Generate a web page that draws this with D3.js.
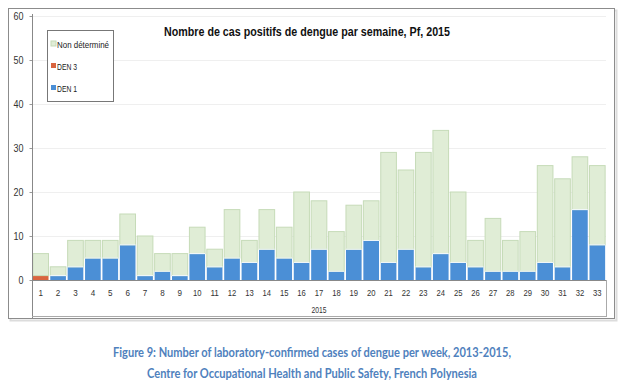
<!DOCTYPE html>
<html>
<head>
<meta charset="utf-8">
<script src="https://cdn.jsdelivr.net/npm/d3@7"></script>
<style>
  body { margin:0; background:#fff; }
  svg { display:block; }
</style>
</head>
<body>
<svg id="chart" width="618" height="387"></svg>
<script>
// weeks of 2015
var weeks = ["1","2","3","4","5","6","7","8","9","10","11","12","13","14","15","16","17",
             "18","19","20","21","22","23","24","25","26","27","28","29","30","31","32","33"];
var den1   = [0,1,3,5,5,8,1,2,1,6,3,5,4,7,5,4,7,2,7,9,4,7,3,6,4,3,2,2,2,4,3,16,8];
var den3   = [1,0,0,0,0,0,0,0,0,0,0,0,0,0,0,0,0,0,0,0,0,0,0,0,0,0,0,0,0,0,0,0,0];
var nonDet = [5,2,6,4,4,7,9,4,5,6,4,11,5,9,7,16,11,9,10,9,25,18,26,28,16,6,12,7,9,22,20,12,18];
var yTicks = [0,10,20,30,40,50,60];
var seriesKeys = ["den1","den3","nonDet"];
var seriesNames = {den1:"DEN 1", den3:"DEN 3", nonDet:"Non déterminé"};
var colors = {den1:"#4b8fd6", den3:"#d9643f", nonDet:"#e0edd6"};
var narrow = "Liberation Sans, Arial, sans-serif";

var svg = d3.select("#chart");

var table = weeks.map(function(w, i){
  return {week:w, den1:den1[i], den3:den3[i], nonDet:nonDet[i]};
});

var x = d3.scaleBand().domain(weeks).range([32, 606]).paddingInner(0.1).paddingOuter(0.05);
var y = d3.scaleLinear().domain([0, 60]).range([280, 16]);

// outer frame
svg.append("rect").attr("x", 10.5).attr("y", 10.5).attr("width", 606).attr("height", 310)
   .attr("fill", "none").attr("stroke", "#dcdcdc").attr("stroke-width", 2);
svg.append("rect").attr("x", 8.5).attr("y", 8.5).attr("width", 606).attr("height", 310)
   .attr("fill", "#fff").attr("stroke", "#8c8c8c");

// grid
svg.append("g").selectAll("line").data(yTicks.slice(1)).enter().append("line")
   .attr("x1", 32).attr("x2", 606)
   .attr("y1", function(d){ return y(d) + 0.5; }).attr("y2", function(d){ return y(d) + 0.5; })
   .attr("stroke", "#efefef");

// stacked bars
var stack = d3.stack().keys(seriesKeys)(table);
var layers = svg.append("g").selectAll("g").data(stack).enter().append("g");
layers.selectAll("rect").data(function(s){ return s.map(function(d){ return {key:s.key, d:d}; }); })
  .enter().append("rect")
  .filter(function(p){ return p.d[1] - p.d[0] > 0; })
  .attr("x", function(p){ return x(p.d.data.week); })
  .attr("width", x.bandwidth())
  .attr("y", function(p){ return y(p.d[1]); })
  .attr("height", function(p){ return y(p.d[0]) - y(p.d[1]); })
  .attr("fill", function(p){ return colors[p.key]; })
  .attr("stroke", function(p){ return p.key == "nonDet" ? "#c6dbb8" : "none"; })
  .attr("stroke-width", 1);

// white separators between blue and green
svg.append("g").selectAll("line").data(table.filter(function(d){ return d.den1 > 0; })).enter().append("line")
  .attr("x1", function(d){ return x(d.week); })
  .attr("x2", function(d){ return x(d.week) + x.bandwidth(); })
  .attr("y1", function(d){ return y(d.den1 + d.den3); })
  .attr("y2", function(d){ return y(d.den1 + d.den3); })
  .attr("stroke", "#f4faff").attr("stroke-width", 1);

// y axis
var yAxis = svg.append("g").attr("transform", "translate(32.5,0)")
  .call(d3.axisLeft(y).tickValues(yTicks).tickSize(3).tickPadding(6));
yAxis.select(".domain").remove();
yAxis.selectAll("line").attr("stroke", "#999");
yAxis.selectAll("text").attr("font-family", narrow)
  .attr("font-size", 10).attr("fill", "#333").attr("textLength", function(d){ return d == 0 ? 5 : 10; })
  .attr("lengthAdjust", "spacingAndGlyphs");
svg.append("line").attr("x1", 32.5).attr("x2", 32.5).attr("y1", 14).attr("y2", 318).attr("stroke", "#888");

// x axis
var xAxis = svg.append("g").attr("transform", "translate(0,280.5)")
  .call(d3.axisBottom(x).tickSize(0).tickPadding(9));
xAxis.select(".domain").remove();
xAxis.selectAll("text").attr("font-family", narrow)
  .attr("font-size", 9).attr("fill", "#333")
  .attr("textLength", function(d){ return d.length > 1 ? 8.5 : 4.5; })
  .attr("lengthAdjust", "spacingAndGlyphs");
svg.append("line").attr("x1", 32).attr("x2", 606.5).attr("y1", 280.5).attr("y2", 280.5).attr("stroke", "#888");
svg.append("line").attr("x1", 606.5).attr("x2", 606.5).attr("y1", 280).attr("y2", 317).attr("stroke", "#aaa");
svg.append("line").attr("x1", 32).attr("x2", 606.5).attr("y1", 316.5).attr("y2", 316.5).attr("stroke", "#aaa");
svg.append("text").attr("x", 319).attr("y", 313).attr("text-anchor", "middle")
  .attr("font-family", narrow).attr("font-size", 8.5).attr("fill", "#333")
  .attr("textLength", 15).attr("lengthAdjust", "spacingAndGlyphs")
  .text("2015");

// title
svg.append("text").attr("x", 307).attr("y", 36).attr("text-anchor", "middle")
  .attr("font-family", narrow).attr("font-weight", "bold")
  .attr("font-size", 12.5).attr("fill", "#111")
  .attr("textLength", 286).attr("lengthAdjust", "spacingAndGlyphs")
  .text("Nombre de cas positifs de dengue par semaine, Pf, 2015");

// legend
svg.append("rect").attr("x", 47.5).attr("y", 30.5).attr("width", 66).attr("height", 71)
  .attr("fill", "#fff").attr("stroke", "#777");
var legendKeys = ["nonDet","den3","den1"];
var legendLen = {nonDet:52, den3:20, den1:20};
var lg = svg.append("g").selectAll("g").data(legendKeys).enter().append("g")
  .attr("transform", function(d, i){ return "translate(51," + (44 + i * 22) + ")"; });
lg.append("rect").attr("x", 0).attr("y", -3).attr("width", 5).attr("height", 5)
  .attr("fill", function(d){ return colors[d]; })
  .attr("stroke", function(d){ return d == "nonDet" ? "#c6dbb8" : "none"; });
lg.append("text").attr("x", 6).attr("y", 3.5)
  .attr("font-family", narrow).attr("font-size", 9.5).attr("fill", "#222")
  .attr("textLength", function(d){ return legendLen[d]; }).attr("lengthAdjust", "spacingAndGlyphs")
  .text(function(d){ return seriesNames[d]; });

// caption
var cap = svg.append("g").attr("font-family", "Lato, sans-serif").attr("font-weight", "bold")
  .attr("font-size", 13).attr("fill", "#4f81bd").attr("text-anchor", "middle")
  .attr("lengthAdjust", "spacingAndGlyphs");
cap.append("text").attr("x", 312).attr("y", 357).attr("textLength", 398).attr("lengthAdjust", "spacingAndGlyphs")
  .text("Figure 9: Number of laboratory-confirmed cases of dengue per week, 2013-2015,");
cap.append("text").attr("x", 312).attr("y", 378).attr("textLength", 330).attr("lengthAdjust", "spacingAndGlyphs")
  .text("Centre for Occupational Health and Public Safety, French Polynesia");
</script>
</body>
</html>
